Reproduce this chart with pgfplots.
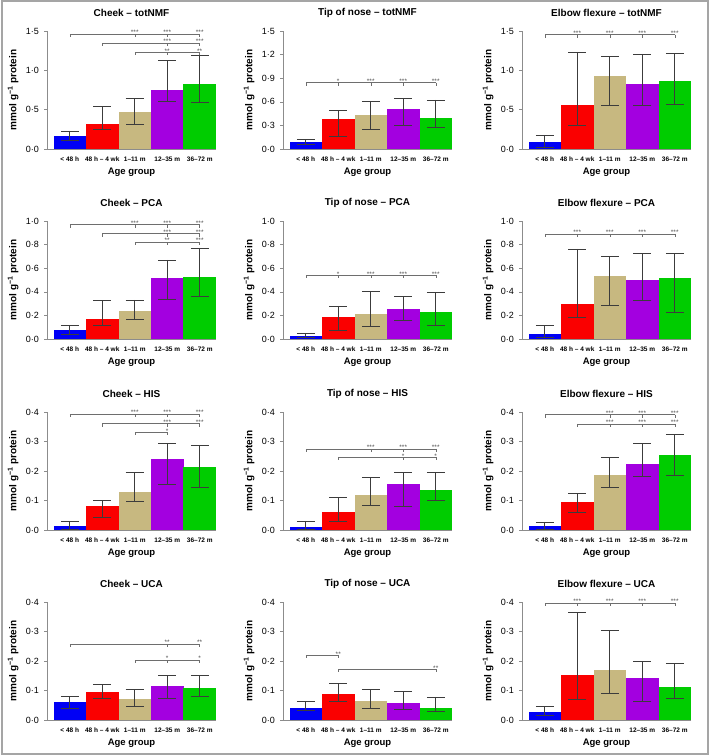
\documentclass[border=0pt]{standalone}
\usepackage{fontspec}
\setmainfont{Liberation Sans}
\usepackage{pgfplots}
\usepackage{pgfplotstable}
\pgfplotsset{compat=1.18}

\definecolor{cA}{RGB}{0,0,245}
\definecolor{cB}{RGB}{250,0,0}
\definecolor{cC}{RGB}{199,184,128}
\definecolor{cD}{RGB}{163,0,224}
\definecolor{cE}{RGB}{0,204,0}
\definecolor{axgray}{RGB}{140,140,140}
\definecolor{errc}{RGB}{60,60,60}
\definecolor{brkc}{RGB}{110,110,110}

\pgfdeclareplotmark{tickdown}{\pgfpathmoveto{\pgfpointorigin}\pgfpathlineto{\pgfpoint{0pt}{-3pt}}\pgfusepathqstroke}

% x y lo hi  (bar = median, error bar = lo..hi)
\pgfplotstableread{
x y lo hi
0 0.164 0.105 0.231
1 0.32 0.25 0.545
2 0.466 0.31 0.64
3 0.75 0.61 1.13
4 0.83 0.59 1.19
}\tA
\pgfplotstableread{
x y lo hi
0 0.084 0.06 0.12
1 0.375 0.165 0.49
2 0.43 0.245 0.61
3 0.505 0.30 0.65
4 0.40 0.27 0.625
}\tB
\pgfplotstableread{
x y lo hi
0 0.09 0.025 0.18
1 0.56 0.30 1.235
2 0.93 0.56 1.18
3 0.83 0.56 1.21
4 0.87 0.57 1.215
}\tC
\pgfplotstableread{
x y lo hi
0 0.076 0.042 0.113
1 0.172 0.115 0.33
2 0.24 0.166 0.332
3 0.518 0.335 0.67
4 0.527 0.358 0.766
}\tD
\pgfplotstableread{
x y lo hi
0 0.028 0.014 0.048
1 0.186 0.07 0.28
2 0.214 0.11 0.40
3 0.256 0.158 0.358
4 0.228 0.118 0.394
}\tE
\pgfplotstableread{
x y lo hi
0 0.04 0.011 0.115
1 0.293 0.186 0.763
2 0.532 0.282 0.704
3 0.504 0.327 0.724
4 0.515 0.225 0.724
}\tF
\pgfplotstableread{
x y lo hi
0 0.014 0.002 0.028
1 0.083 0.042 0.099
2 0.13 0.097 0.194
3 0.241 0.156 0.295
4 0.212 0.145 0.287
}\tG
\pgfplotstableread{
x y lo hi
0 0.010 0.001 0.031
1 0.06 0.029 0.11
2 0.12 0.083 0.177
3 0.155 0.08 0.195
4 0.136 0.102 0.195
}\tH
\pgfplotstableread{
x y lo hi
0 0.014 0.003 0.025
1 0.094 0.059 0.125
2 0.185 0.144 0.248
3 0.223 0.181 0.293
4 0.254 0.186 0.324
}\tI
\pgfplotstableread{
x y lo hi
0 0.06 0.038 0.08
1 0.094 0.073 0.121
2 0.07 0.046 0.103
3 0.114 0.073 0.15
4 0.108 0.079 0.151
}\tJ
\pgfplotstableread{
x y lo hi
0 0.04 0.032 0.064
1 0.089 0.064 0.124
2 0.066 0.041 0.105
3 0.056 0.035 0.097
4 0.041 0.028 0.078
}\tK
\pgfplotstableread{
x y lo hi
0 0.028 0.015 0.046
1 0.151 0.071 0.366
2 0.169 0.091 0.303
3 0.142 0.063 0.198
4 0.113 0.073 0.192
}\tL

\pgfplotsset{
  table/iqr/.style={x=x, y=y,
    y error plus expr=\thisrow{hi}-\thisrow{y},
    y error minus expr=\thisrow{y}-\thisrow{lo}},
  barst/.style={ybar, bar width=1, bar shift=0pt, draw=none,
    error bars/y dir=both, error bars/y explicit,
    error bars/error bar style={draw=errc, line width=0.6pt},
    error bars/error mark options={rotate=90, mark size=9pt, draw=errc, line width=0.6pt}},
  brk/.style={sharp plot, draw=brkc, line width=0.5pt, mark=tickdown,
    mark options={draw=brkc, line width=0.5pt},
    nodes near coords, point meta=explicit symbolic,
    every node near coord/.append style={font=\fontsize{6.5}{7}\selectfont, inner sep=0pt, anchor=south, yshift=-1pt, text=black!70}},
  panel/.style={
    scale only axis, width=169pt, height=118pt,
    anchor=south west, clip=false,
    xmin=-0.7, xmax=4.5, ymin=0,
    axis x line*=bottom, axis y line*=left,
    axis line style={-, draw=axgray, line width=0.6pt},
    x axis line style={-}, y axis line style={-},
    xtick={0,1,2,3,4},
    xticklabels={{< 48 h},{48 h – 4 wk},{1–11 m},{12–35 m},{36–72 m}},
    x tick label style={font=\bfseries\fontsize{6.5}{7}\selectfont, anchor=north, inner sep=0pt, yshift=-5pt},
    xtick style={draw=none},
    y tick label style={font=\fontsize{9}{10}\selectfont, anchor=east, inner sep=0pt, xshift=-5pt},
    ytick style={draw=axgray, line width=0.5pt},
    tick align=outside, major tick length=3pt,
    xlabel={Age group},
    ylabel={mmol g\textsuperscript{−1} protein},
    every axis x label/.style={at={(axis description cs:0.5,0)}, anchor=center, yshift=-23pt, font=\bfseries\fontsize{9.5}{11}\selectfont},
    every axis y label/.style={at={(axis description cs:-0.2,0.5)}, rotate=90, anchor=center, font=\bfseries\fontsize{10}{12}\selectfont},
    every axis title/.style={at={(axis description cs:0.5,1)}, anchor=center, yshift=18pt, font=\bfseries\fontsize{10}{12}\selectfont},
  },
  rA/.style={ymax=1.5, ytick={0,0.5,1,1.5}, yticklabels={0·0,0·5,1·0,1·5}},
  rB/.style={ymax=1.5, ytick={0,0.3,0.6,0.9,1.2,1.5}, yticklabels={0·0,0·3,0·6,0·9,1·2,1·5}},
  rC/.style={ymax=1.0, ytick={0,0.2,0.4,0.6,0.8,1.0}, yticklabels={0·0,0·2,0·4,0·6,0·8,1·0}},
  rD/.style={ymax=0.4, ytick={0,0.1,0.2,0.3,0.4}, yticklabels={0·0,0·1,0·2,0·3,0·4}},
}

\newcommand\bars[1]{%
  \addplot[barst, fill=cA, restrict x to domain=-0.2:0.2] table[iqr]{#1};
  \addplot[barst, fill=cB, restrict x to domain=0.8:1.2] table[iqr]{#1};
  \addplot[barst, fill=cC, restrict x to domain=1.8:2.2] table[iqr]{#1};
  \addplot[barst, fill=cD, restrict x to domain=2.8:3.2] table[iqr]{#1};
  \addplot[barst, fill=cE, restrict x to domain=3.8:4.2] table[iqr]{#1};
}

\begin{document}
\begin{tikzpicture}
\path[use as bounding box] (0,0) rectangle (709pt,756pt);
\draw[color={rgb,255:red,165;green,165;blue,165}, line width=2pt] (1.5pt,1.5pt) rectangle (707.5pt,754.5pt);

% ---------------- Row 1 ----------------
\begin{axis}[panel, rA, at={(47pt,607pt)}, title={Cheek – totNMF}]
\bars{\tA}
\addplot[brk] coordinates {(0,1.46) [{}] (2,1.46) [***] (3,1.46) [***] (4,1.46) [***]};
\addplot[brk] coordinates {(1,1.345) [{}] (3,1.345) [***] (4,1.345) [***]};
\addplot[brk] coordinates {(2,1.227) [{}] (3,1.227) [**] (4,1.227) [**]};
\end{axis}

\begin{axis}[panel, rB, at={(283pt,607pt)}, title={Tip of nose – totNMF}]
\bars{\tB}
\addplot[brk] coordinates {(0,0.845) [{}] (1,0.845) [*] (2,0.845) [***] (3,0.845) [***] (4,0.845) [***]};
\end{axis}

\begin{axis}[panel, rA, at={(522pt,607pt)}, title={Elbow flexure – totNMF}]
\bars{\tC}
\addplot[brk] coordinates {(0,1.455) [{}] (1,1.455) [***] (2,1.455) [***] (3,1.455) [***] (4,1.455) [***]};
\end{axis}

% ---------------- Row 2 ----------------
\begin{axis}[panel, rC, at={(47pt,417pt)}, title={Cheek – PCA}]
\bars{\tD}
\addplot[brk] coordinates {(0,0.97) [{}] (2,0.97) [***] (3,0.97) [***] (4,0.97) [***]};
\addplot[brk] coordinates {(1,0.893) [{}] (3,0.893) [***] (4,0.893) [***]};
\addplot[brk] coordinates {(2,0.82) [{}] (3,0.82) [**] (4,0.82) [***]};
\end{axis}

\begin{axis}[panel, rC, at={(283pt,417pt)}, title={Tip of nose – PCA}]
\bars{\tE}
\addplot[brk] coordinates {(0,0.54) [{}] (1,0.54) [*] (2,0.54) [***] (3,0.54) [***] (4,0.54) [***]};
\end{axis}

\begin{axis}[panel, rC, at={(522pt,417pt)}, title={Elbow flexure – PCA}]
\bars{\tF}
\addplot[brk] coordinates {(0,0.89) [{}] (1,0.89) [***] (2,0.89) [***] (3,0.89) [***] (4,0.89) [***]};
\end{axis}

% ---------------- Row 3 ----------------
\begin{axis}[panel, rD, at={(47pt,226pt)}, title={Cheek – HIS}]
\bars{\tG}
\addplot[brk] coordinates {(0,0.393) [{}] (2,0.393) [***] (3,0.393) [***] (4,0.393) [***]};
\addplot[brk] coordinates {(1,0.361) [{}] (3,0.361) [***] (4,0.361) [***]};
\addplot[brk] coordinates {(2,0.331) [{}] (3,0.331) [*]};
\end{axis}

\begin{axis}[panel, rD, at={(283pt,226pt)}, title={Tip of nose – HIS}]
\bars{\tH}
\addplot[brk] coordinates {(0,0.275) [{}] (2,0.275) [***] (3,0.275) [***] (4,0.275) [***]};
\addplot[brk] coordinates {(1,0.246) [{}] (3,0.246) [*] (4,0.246) [*]};
\end{axis}

\begin{axis}[panel, rD, at={(522pt,226pt)}, title={Elbow flexure – HIS}]
\bars{\tI}
\addplot[brk] coordinates {(0,0.391) [{}] (2,0.391) [***] (3,0.391) [***] (4,0.391) [***]};
\addplot[brk] coordinates {(1,0.36) [{}] (2,0.36) [***] (3,0.36) [***] (4,0.36) [***]};
\end{axis}

% ---------------- Row 4 ----------------
\begin{axis}[panel, rD, at={(47pt,36pt)}, title={Cheek – UCA}]
\bars{\tJ}
\addplot[brk] coordinates {(0,0.257) [{}] (3,0.257) [**] (4,0.257) [**]};
\addplot[brk] coordinates {(2,0.203) [{}] (3,0.203) [*] (4,0.203) [*]};
\end{axis}

\begin{axis}[panel, rD, at={(283pt,36pt)}, title={Tip of nose – UCA}]
\bars{\tK}
\addplot[brk] coordinates {(0,0.219) [{}] (1,0.219) [**]};
\addplot[brk] coordinates {(1,0.172) [{}] (4,0.172) [**]};
\end{axis}

\begin{axis}[panel, rD, at={(522pt,36pt)}, title={Elbow flexure – UCA}]
\bars{\tL}
\addplot[brk] coordinates {(0,0.396) [{}] (1,0.396) [***] (2,0.396) [***] (3,0.396) [***] (4,0.396) [***]};
\end{axis}
\end{tikzpicture}
\end{document}
